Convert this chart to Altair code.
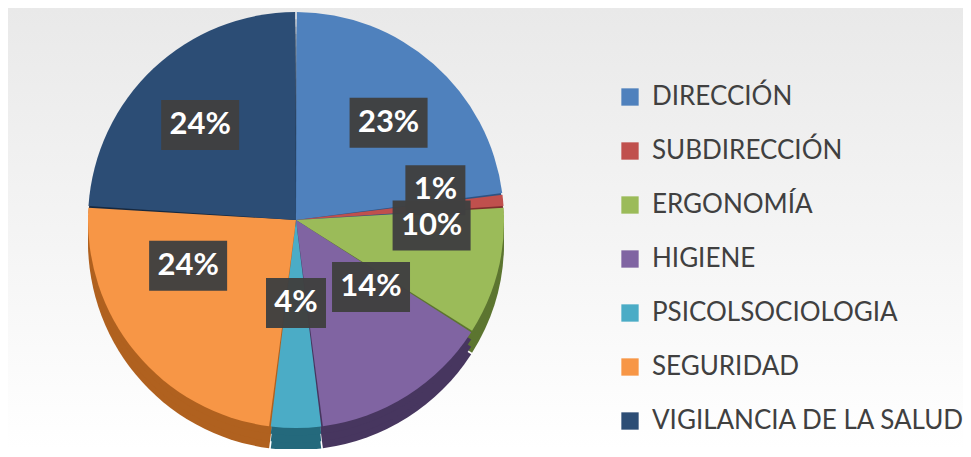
import altair as alt
import pandas as pd

categories = ["DIRECCIÓN", "SUBDIRECCIÓN", "ERGONOMÍA", "HIGIENE",
              "PSICOLSOCIOLOGIA", "SEGURIDAD", "VIGILANCIA DE LA SALUD"]
values = [23, 1, 10, 14, 4, 24, 24]
labels = ["23%", "1%", "10%", "14%", "4%", "24%", "24%"]
colors = ["#4f81bd", "#c0504d", "#9bbb59", "#8064a2", "#4bacc6", "#f79646", "#2c4d75"]
side_colors = ["#2e5382", "#7e2f2d", "#5c7530", "#47365f", "#24697c", "#b0611f", "#16283f"]

df = pd.DataFrame({"cat": categories, "value": values, "label": labels,
                   "order": list(range(len(categories)))})

W, H = 955, 441
CX, CY, R = 288, 212, 208
DEPTH = 22
# label ring (elliptical, as in the tilted original)
LX, LY, LCY = 140, 103, CY - 20

bg = alt.Chart(pd.DataFrame({"a": [0]})).mark_rect(
    color=alt.LinearGradient(
        gradient="linear", x1=0, x2=0, y1=0, y2=1,
        stops=[alt.GradientStop(color="#e9e9e9", offset=0),
               alt.GradientStop(color="#ffffff", offset=1)])
).encode(x=alt.value(0), x2=alt.value(W), y=alt.value(0), y2=alt.value(H))

base = alt.Chart(df)

sides = []
for d in [DEPTH, DEPTH * 2 / 3, DEPTH / 3]:
    sides.append(base.mark_arc(outerRadius=R, padAngle=0.008).encode(
        theta=alt.Theta("value:Q", stack=True),
        order=alt.Order("order:Q"),
        color=alt.Color("cat:N", scale=alt.Scale(domain=categories, range=side_colors), legend=None),
        x=alt.value(CX), y=alt.value(CY + d)))

top = base.mark_arc(outerRadius=R, padAngle=0.008).encode(
    theta=alt.Theta("value:Q", stack=True),
    order=alt.Order("order:Q"),
    color=alt.Color("cat:N", scale=alt.Scale(domain=categories, range=colors),
                    sort=categories, legend=alt.Legend(title=None)),
    x=alt.value(CX), y=alt.value(CY))

lab = base.transform_joinaggregate(total="sum(value)").transform_window(
    cum="sum(value)", sort=[alt.SortField("order")], frame=[None, 0]
).transform_calculate(
    mid="(datum.cum - datum.value/2)/datum.total*2*PI",
).transform_calculate(
    lx=f"{CX} + {LX}*sin(datum.mid)",
    ly=f"{LCY} - {LY}*cos(datum.mid)",
    bw="18*length(datum.label)+24",
).transform_calculate(
    x1="datum.lx - datum.bw/2", x2="datum.lx + datum.bw/2",
    y1="datum.ly - 25", y2="datum.ly + 25",
)

boxes = lab.mark_rect(color="#404040", opacity=0.97).encode(
    x=alt.X("x1:Q", scale=None, axis=None), x2="x2:Q",
    y=alt.Y("y1:Q", scale=None, axis=None), y2="y2:Q")

texts = lab.mark_text(font="Lato", fontSize=31, fontWeight="bold", color="white",
                      baseline="middle", align="center").encode(
    x=alt.X("lx:Q", scale=None, axis=None),
    y=alt.Y("ly:Q", scale=None, axis=None),
    text="label:N")

chart = alt.layer(bg, *sides, top, boxes, texts).resolve_scale(
    color="independent"
).properties(
    width=W, height=H, padding=0, autosize=alt.AutoSizeParams(type="none")
).configure_view(stroke=None).configure_legend(
    orient="none", legendX=609, legendY=76,
    labelFont="Lato", labelFontSize=26, labelColor="#404040", labelLimit=400,
    symbolType="square", symbolSize=300, symbolStrokeWidth=0, symbolOpacity=1,
    rowPadding=28, labelOffset=9,
)

chart.save("out.html", embed_options={"renderer": "svg", "actions": False})
